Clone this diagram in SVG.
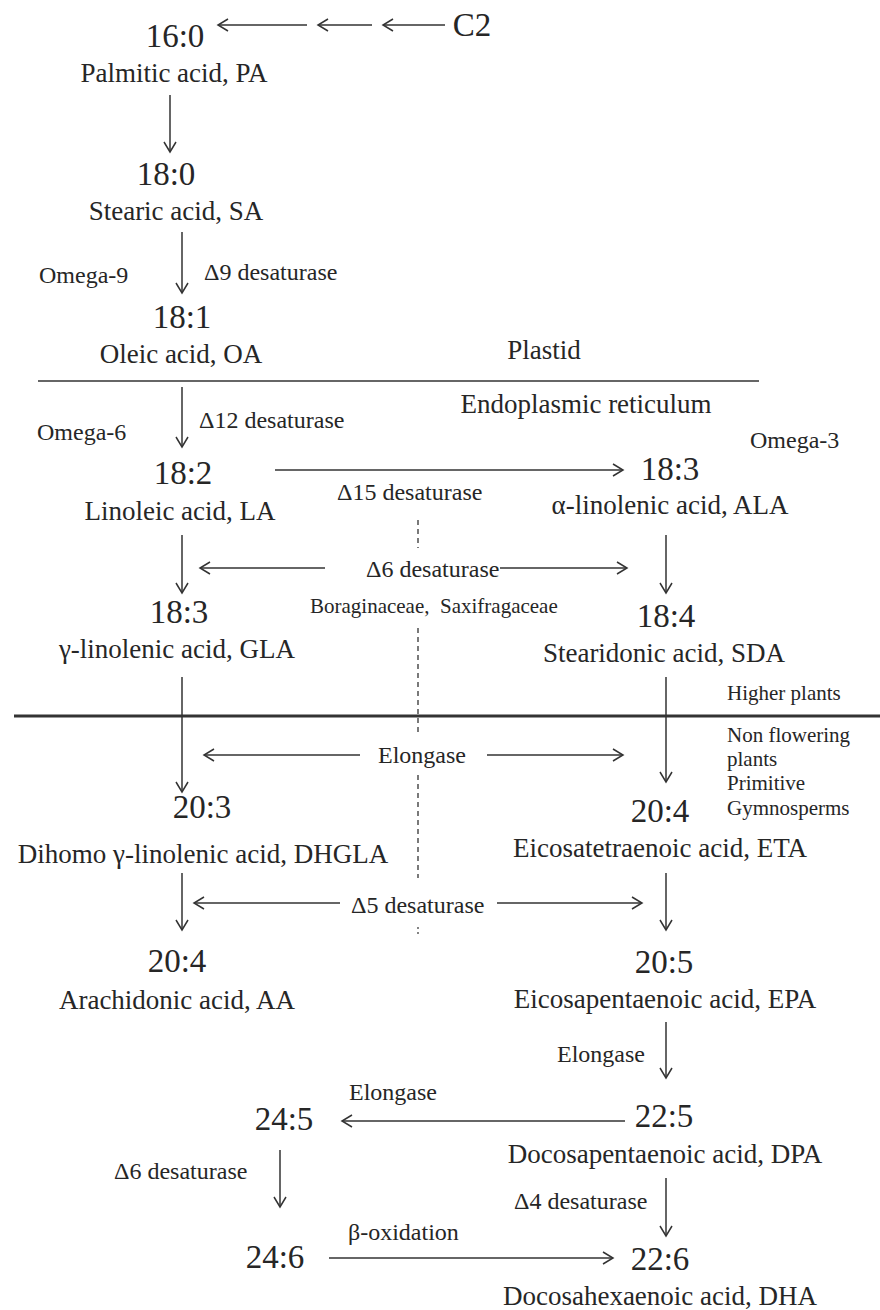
<svg xmlns="http://www.w3.org/2000/svg" width="880" height="1310" viewBox="0 0 880 1310">
  <style>
    text { font-family: "Liberation Serif", "Times New Roman", serif; fill: #262626; }
    .num { font-size: 33px; text-anchor: middle; }
    .name { font-size: 27px; text-anchor: middle; }
    .lbl { font-size: 24px; }
    .sm { font-size: 21px; }
    .zone { font-size: 27px; text-anchor: middle; }
    .ln { stroke: #333; stroke-width: 1.5; fill: none; }
    .arr { stroke: #333; stroke-width: 1.5; fill: none; marker-end: url(#head); }
    .dash { stroke: #333; stroke-width: 1.3; fill: none; stroke-dasharray: 5 4; }
  </style>
  <defs>
    <marker id="head" markerUnits="userSpaceOnUse" markerWidth="14" markerHeight="16" viewBox="-12 -8 14 16" refX="0" refY="0" orient="auto">
      <path d="M-10,-6 L0,0 L-10,6" fill="none" stroke="#333" stroke-width="1.5"/>
    </marker>
  </defs>
  <rect width="880" height="1310" fill="#fff"/>

  <!-- compartment boundaries and clade separator -->
  <g id="boundaries">
    <line class="ln" x1="38" y1="381" x2="759" y2="381"/>
    <line x1="14" y1="716" x2="880" y2="716" stroke="#333" stroke-width="3"/>
    <path class="dash" d="M418,520 V548 M418,628 V733 M418,775 V878"/>
    <path d="M418,927 V929 M418,932 V934" stroke="#333" stroke-width="1.2"/>
  </g>

  <!-- reaction arrows -->
  <g id="connectors">
    <line class="arr" x1="307" y1="25" x2="218" y2="25"/>
    <line class="arr" x1="372" y1="25" x2="318" y2="25"/>
    <line class="arr" x1="445" y1="25" x2="383" y2="25"/>
    <line class="arr" x1="170" y1="95" x2="170" y2="152"/>
    <line class="arr" x1="182" y1="232" x2="182" y2="293"/>
    <line class="arr" x1="182" y1="387" x2="182" y2="447"/>
    <line class="arr" x1="275" y1="470" x2="623" y2="470"/>
    <line class="arr" x1="182" y1="535" x2="182" y2="593"/>
    <line class="arr" x1="666" y1="535" x2="666" y2="593"/>
    <line class="arr" x1="325" y1="568" x2="200" y2="568"/>
    <line class="arr" x1="500" y1="568" x2="627" y2="568"/>
    <line class="arr" x1="182" y1="677" x2="182" y2="792"/>
    <line class="arr" x1="666" y1="677" x2="666" y2="782"/>
    <line class="arr" x1="360" y1="755" x2="204" y2="755"/>
    <line class="arr" x1="487" y1="755" x2="623" y2="755"/>
    <line class="arr" x1="182" y1="873" x2="182" y2="930"/>
    <line class="arr" x1="666" y1="873" x2="666" y2="930"/>
    <line class="arr" x1="340" y1="903" x2="194" y2="903"/>
    <line class="arr" x1="497" y1="903" x2="642" y2="903"/>
    <line class="arr" x1="666" y1="1022" x2="666" y2="1078"/>
    <line class="arr" x1="625" y1="1121" x2="342" y2="1121"/>
    <line class="arr" x1="280" y1="1150" x2="280" y2="1207"/>
    <line class="arr" x1="666" y1="1178" x2="666" y2="1236"/>
    <line class="arr" x1="329" y1="1258" x2="613" y2="1258"/>
  </g>

  <!-- enzyme and region labels -->
  <g id="labels">
    <text class="zone" x="544" y="359">Plastid</text>
    <text class="zone" x="586" y="413">Endoplasmic reticulum</text>
    <text class="lbl" x="39" y="283">Omega-9</text>
    <text class="lbl" x="204" y="280">Δ9 desaturase</text>
    <text class="lbl" x="199" y="428">Δ12 desaturase</text>
    <text class="lbl" x="37" y="440">Omega-6</text>
    <text class="lbl" x="750" y="448">Omega-3</text>
    <text class="lbl" x="337" y="500">Δ15 desaturase</text>
    <text class="lbl" x="366" y="577">Δ6 desaturase</text>
    <text class="sm" x="310" y="613" xml:space="preserve">Boraginaceae,  Saxifragaceae</text>
    <text class="sm" x="727" y="700">Higher plants</text>
    <text class="lbl" x="378" y="763">Elongase</text>
    <text class="sm" x="727" y="742">Non flowering</text>
    <text class="sm" x="727" y="766">plants</text>
    <text class="sm" x="727" y="790">Primitive</text>
    <text class="sm" x="727" y="815">Gymnosperms</text>
    <text class="lbl" x="351" y="913">Δ5 desaturase</text>
    <text class="lbl" x="557" y="1062">Elongase</text>
    <text class="lbl" x="349" y="1100">Elongase</text>
    <text class="lbl" x="114" y="1179">Δ6 desaturase</text>
    <text class="lbl" x="514" y="1209">Δ4 desaturase</text>
    <text class="lbl" x="348" y="1240">β-oxidation</text>
  </g>

  <!-- fatty acids -->
  <g id="c2"><text class="num" x="472" y="36">C2</text></g>
  <g id="pa">
    <text class="num" x="175" y="47">16:0</text>
    <text class="name" x="174" y="82">Palmitic acid, PA</text>
  </g>
  <g id="sa">
    <text class="num" x="166" y="185">18:0</text>
    <text class="name" x="176" y="220">Stearic acid, SA</text>
  </g>
  <g id="oa">
    <text class="num" x="182" y="328">18:1</text>
    <text class="name" x="181" y="363">Oleic acid, OA</text>
  </g>
  <g id="la">
    <text class="num" x="183" y="484">18:2</text>
    <text class="name" x="180" y="520">Linoleic acid, LA</text>
  </g>
  <g id="ala">
    <text class="num" x="670" y="480">18:3</text>
    <text class="name" x="670" y="514">α-linolenic acid, ALA</text>
  </g>
  <g id="gla">
    <text class="num" x="179" y="623">18:3</text>
    <text class="name" x="177" y="658">γ-linolenic acid, GLA</text>
  </g>
  <g id="sda">
    <text class="num" x="666" y="627">18:4</text>
    <text class="name" x="664" y="662">Stearidonic acid, SDA</text>
  </g>
  <g id="dhgla">
    <text class="num" x="202" y="818">20:3</text>
    <text class="name" x="203" y="863">Dihomo γ-linolenic acid, DHGLA</text>
  </g>
  <g id="eta">
    <text class="num" x="660" y="822">20:4</text>
    <text class="name" x="660" y="857">Eicosatetraenoic acid, ETA</text>
  </g>
  <g id="aa">
    <text class="num" x="177" y="972">20:4</text>
    <text class="name" x="177" y="1009">Arachidonic acid, AA</text>
  </g>
  <g id="epa">
    <text class="num" x="664" y="973">20:5</text>
    <text class="name" x="665" y="1008">Eicosapentaenoic acid, EPA</text>
  </g>
  <g id="c24-5"><text class="num" x="284" y="1130">24:5</text></g>
  <g id="dpa">
    <text class="num" x="664" y="1127">22:5</text>
    <text class="name" x="665" y="1163">Docosapentaenoic acid, DPA</text>
  </g>
  <g id="c24-6"><text class="num" x="275" y="1268">24:6</text></g>
  <g id="dha">
    <text class="num" x="660" y="1270">22:6</text>
    <text class="name" x="660" y="1305">Docosahexaenoic acid, DHA</text>
  </g>
</svg>
